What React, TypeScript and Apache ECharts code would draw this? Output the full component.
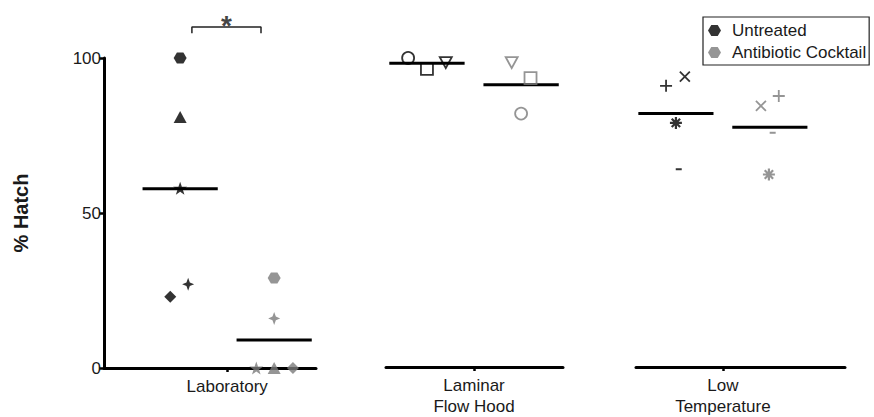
import React, { useEffect, useRef } from "react";
import * as echarts from "echarts";

// ---- data ----
const categories = ["Laboratory", "Laminar\nFlow Hood", "Low\nTemperature"];
const seriesNames = ["Untreated", "Antibiotic Cocktail"];
const seriesColors = ["#000000", "#7a7a7a"];
const yTicks = [0, 50, 100];

// % hatch per replicate (group 0 = Untreated, group 1 = Antibiotic Cocktail)
const untreatedValues = [
  [100, 81, 58, 23, 27],
  [100, 96.5, 98.5],
  [91, 94, 79, 64],
];
const antibioticValues = [
  [29, 16, 0, 0, 0],
  [82, 93.5, 98.5],
  [84.5, 87.7, 75.8, 62.3],
];
// horizontal jitter of each replicate around its group position
const untreatedJitter = [
  [0, 0, 0, -0.21, 0.17],
  [-0.4, 0, 0.4],
  [-0.21, 0.19, 0, 0.06],
];
const antibioticJitter = [
  [0, 0, -0.38, 0, 0.4],
  [0, 0.2, -0.2],
  [-0.19, 0.19, 0.06, -0.02],
];
const untreatedSymbols = [
  ["hexagon", "triangle", "star", "diamond", "star4"],
  ["circle", "square", "tridown"],
  ["plus", "cross", "asterisk", "dash"],
];
const antibioticSymbols = [
  ["hexagon", "star4", "star", "triangle", "diamond"],
  ["circle", "square", "tridown"],
  ["cross", "plus", "dash", "asterisk"],
];
// significance bracket (Laboratory)
const bracketX = [-0.75, 0.72];
const bracketY = [108, 110];
const sigLabel = "*";

// ---- layout ----
const groupOffset = [-1, 1];
const xRanges = [
  [-2.62, 1.89],
  [-1.87, 1.89],
  [-1.85, 2.6],
];
const gridLefts = [104, 386, 636];
const gridWidths = [212, 177, 209];
const FONT = "'Liberation Sans', Arial, Helvetica, sans-serif";

const HEX = "path://M3,0L9,0L12,5L9,10L3,10L0,5Z";
const STAR =
  "path://M50,0L61.8,35.1L98.1,35.1L68.8,56.7L79.4,91.5L50,70.5L20.6,91.5L31.2,56.7L1.9,35.1L38.2,35.1Z";
const STAR4 = "path://M10,0L12.8,7.2L20,10L12.8,12.8L10,20L7.2,12.8L0,10L7.2,7.2Z";
const TRIDOWN = "path://M0,0L12,0L6,11Z";
const PLUS = "path://M6,0L6,12M0,6L12,6";
const CROSS = "path://M0,0L10,10M0,10L10,0";
const ASTER = "path://M6,0L6,12M0,6L12,6M1.8,1.8L10.2,10.2M1.8,10.2L10.2,1.8";

function markerFor(kind: string, color: string) {
  const filled = { color, borderWidth: 0 };
  const open = { color: "rgba(0,0,0,0)", borderColor: color, borderWidth: 1.8 };
  switch (kind) {
    case "hexagon":
      return { symbol: HEX, symbolSize: [13, 11], itemStyle: filled };
    case "triangle":
      return { symbol: "triangle", symbolSize: [13, 12], itemStyle: filled };
    case "star":
      return { symbol: STAR, symbolSize: [14, 13], itemStyle: filled };
    case "diamond":
      return { symbol: "diamond", symbolSize: [12, 12], itemStyle: filled };
    case "star4":
      return { symbol: STAR4, symbolSize: [12, 13], itemStyle: filled };
    case "circle":
      return { symbol: "circle", symbolSize: 12, itemStyle: open };
    case "square":
      return { symbol: "rect", symbolSize: 12, itemStyle: open };
    case "tridown":
      return { symbol: TRIDOWN, symbolSize: [12, 11], itemStyle: open };
    case "plus":
      return { symbol: PLUS, symbolSize: 12, itemStyle: open };
    case "cross":
      return { symbol: CROSS, symbolSize: 10, itemStyle: open };
    case "asterisk":
      return { symbol: ASTER, symbolSize: 12, itemStyle: { ...open, borderWidth: 2.2 } };
    case "dash":
      return { symbol: "rect", symbolSize: [6, 2], itemStyle: filled };
  }
  return { symbol: "circle", symbolSize: 10, itemStyle: filled };
}

const mean = (a: number[]) => a.reduce((s, v) => s + v, 0) / a.length;

export default function App() {
  const ref = useRef<HTMLDivElement>(null);
  useEffect(() => {
    if (!ref.current) return;
    const chart = echarts.init(ref.current, null, { renderer: "svg", width: 874, height: 417 });

    const grids = categories.map((_, i) => ({
      left: gridLefts[i],
      width: gridWidths[i],
      top: 58,
      bottom: 49,
      containLabel: false,
    }));
    const xAxes = categories.map((cat, i) => ({
      type: "value",
      gridIndex: i,
      min: xRanges[i][0],
      max: xRanges[i][1],
      splitLine: { show: false },
      axisLine: { show: true, onZero: false, lineStyle: { color: "#000", width: 3 } },
      axisTick: { show: true, customValues: [0], length: 4, lineStyle: { color: "#000", width: 2.5 } },
      axisLabel: {
        show: true,
        customValues: [0],
        formatter: () => cat,
        fontSize: 17,
        lineHeight: 21,
        color: "#1a1a1a",
        fontFamily: FONT,
        margin: 8,
      },
    }));
    const yAxes = categories.map((_, i) => ({
      type: "value",
      gridIndex: i,
      min: 0,
      max: 100,
      interval: 50,
      show: i === 0,
      name: i === 0 ? "% Hatch" : "",
      nameLocation: "middle",
      nameGap: 73,
      nameTextStyle: { fontSize: 20, fontWeight: "bold", color: "#1a1a1a", fontFamily: FONT },
      splitLine: { show: false },
      axisLine: { show: true, onZero: false, lineStyle: { color: "#000", width: 3 } },
      axisTick: { show: true, length: 5, lineStyle: { color: "#000", width: 2.5 } },
      axisLabel: {
        fontSize: 17,
        color: "#1a1a1a",
        fontFamily: FONT,
        margin: 3,
        formatter: (v: number) => (yTicks.includes(v) ? String(v) : ""),
      },
    }));

    const series: any[] = [];
    const groupsVals = [untreatedValues, antibioticValues];
    const groupsJit = [untreatedJitter, antibioticJitter];
    const groupsSym = [untreatedSymbols, antibioticSymbols];
    categories.forEach((_, ci) => {
      [0, 1].forEach((g) => {
        const vals = groupsVals[g][ci];
        const m = mean(vals);
        series.push({
          type: "line",
          name: "mean",
          xAxisIndex: ci,
          yAxisIndex: ci,
          data: [
            [groupOffset[g] - 0.8, m],
            [groupOffset[g] + 0.8, m],
          ],
          symbol: "none",
          lineStyle: { color: "#000", width: 3 },
          z: 2,
          silent: true,
        });
      });
    });
    categories.forEach((_, ci) => {
      [0, 1].forEach((g) => {
        const vals = groupsVals[g][ci];
        series.push({
          type: "scatter",
          name: seriesNames[g],
          xAxisIndex: ci,
          yAxisIndex: ci,
          itemStyle: { color: seriesColors[g] },
          clip: false,
          z: 5,
          data: vals.map((v, k) => ({
            value: [groupOffset[g] + groupsJit[g][ci][k], v],
            ...markerFor(groupsSym[g][ci][k], seriesColors[g]),
          })),
        });
      });
    });
    series.push({
      type: "line",
      name: "bracket",
      xAxisIndex: 0,
      yAxisIndex: 0,
      clip: false,
      symbol: "none",
      lineStyle: { color: "#222", width: 1.5 },
      data: [
        [bracketX[0], bracketY[0]],
        [bracketX[0], bracketY[1]],
        [bracketX[1], bracketY[1]],
        [bracketX[1], bracketY[0]],
      ],
    });
    series.push({
      type: "scatter",
      name: "sig",
      xAxisIndex: 0,
      yAxisIndex: 0,
      clip: false,
      symbolSize: 1,
      itemStyle: { color: "rgba(0,0,0,0)" },
      data: [[(bracketX[0] + bracketX[1]) / 2, 110.5]],
      label: {
        show: true,
        position: "inside",
        formatter: sigLabel,
        fontSize: 28,
        fontWeight: "bold",
        color: "#111",
        fontFamily: FONT,
      },
    });

    chart.setOption({
      animation: false,
      backgroundColor: "#fff",
      textStyle: { fontFamily: FONT },
      grid: grids,
      xAxis: xAxes,
      yAxis: yAxes,
      legend: {
        left: 703,
        top: 17,
        orient: "vertical",
        data: seriesNames.map((n) => ({ name: n, icon: HEX })),
        itemWidth: 13,
        itemHeight: 12,
        itemGap: 5,
        padding: [5, 3, 4, 5],
        borderColor: "#222",
        borderWidth: 1.2,
        textStyle: { fontSize: 17, color: "#1a1a1a", fontFamily: FONT, padding: [0, 0, 0, 6] },
        selectedMode: false,
      },
      series,
    });
    return () => chart.dispose();
  }, []);
  return (
    <div
      ref={ref}
      style={{ position: "fixed", left: 0, top: 0, width: 874, height: 417, background: "#fff" }}
    />
  );
}
